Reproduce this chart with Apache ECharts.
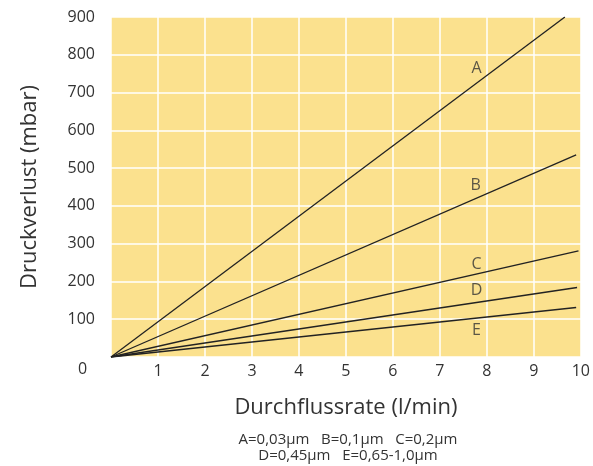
<!DOCTYPE html>
<html><head><meta charset="utf-8">
<script src="https://cdn.jsdelivr.net/npm/echarts@6/dist/echarts.min.js"></script>
<style>html,body{margin:0;padding:0;background:#fff}#c{width:593px;height:466px}</style>
</head><body><div id="c"></div>
<script>
// Line endpoints (flow l/min, pressure loss mbar); every line starts at origin
const seriesNames = ['A','B','C','D','E'];
const endX = [9.66, 9.9, 9.95, 9.92, 9.9];
const endY = [900, 535, 281, 184, 131];
// Curve label positions
const labelX = [7.78, 7.76, 7.78, 7.78, 7.78];
const labelY = [765, 455, 246, 175, 71];
const xTicks = [1,2,3,4,5,6,7,8,9,10];
const yTicks = [100,200,300,400,500,600,700,800,900];
const footnote = ['A=0,03µm   B=0,1µm   C=0,2µm', 'D=0,45µm   E=0,65-1,0µm'];

const FONT = '"Open Sans", Lato, sans-serif';
const chart = echarts.init(document.getElementById('c'));
const series = seriesNames.map((n,i)=>({
  type:'line', name:n, data:[[0,0],[endX[i],endY[i]]], symbol:'none',
  lineStyle:{color:'#222',width:1.3}, silent:true, z:3
}));
series.push({
  type:'scatter', symbolSize:0, silent:true, z:4,
  data: seriesNames.map((n,i)=>({value:[labelX[i],labelY[i]], name:n})),
  label:{show:true, position:'inside', formatter:p=>p.name, color:'#333', fontSize:16, fontFamily:FONT}
});
chart.setOption({
  animation:false,
  backgroundColor:'#fff',
  grid:{left:111, right:12, top:17, bottom:109, show:true, backgroundColor:'#FBE18E', borderWidth:0},
  xAxis:{type:'value', min:0, max:10, interval:1,
    name:'Durchflussrate (l/min)', nameLocation:'middle', nameGap:40,
    nameTextStyle:{fontSize:22, color:'#333', fontFamily:FONT, fontWeight:500},
    axisLine:{show:false}, axisTick:{show:false},
    axisLabel:{fontSize:16, color:'#333', fontFamily:FONT, margin:6,
      formatter:v=> xTicks.includes(v) ? String(v) : ''},
    splitLine:{show:true, lineStyle:{color:'#fff', width:1.5}}
  },
  yAxis:{type:'value', min:0, max:900, interval:100,
    name:'Druckverlust (mbar)', nameLocation:'middle', nameGap:70,
    nameTextStyle:{fontSize:22, color:'#333', fontFamily:FONT, fontWeight:500},
    axisLine:{show:false}, axisTick:{show:false},
    axisLabel:{fontSize:16, color:'#333', fontFamily:FONT, margin:16,
      formatter:v=> yTicks.includes(v) ? String(v) : ''},
    splitLine:{show:true, lineStyle:{color:'#fff', width:1.5}}
  },
  graphic:[
    {type:'text', x:78, y:361, style:{text:'0', fontSize:16, fill:'#333', fontFamily:FONT}},
    {type:'text', x:348, y:432, style:{text:footnote.join('\n'), fontSize:15, lineHeight:16, fill:'#333', fontFamily:FONT, align:'center'}}
  ],
  series
});
</script></body></html>
